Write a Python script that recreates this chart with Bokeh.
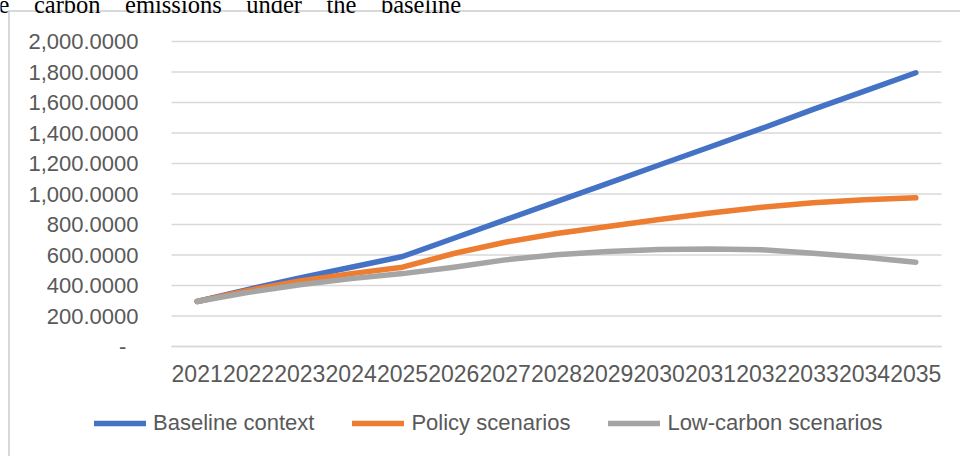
from bokeh.plotting import figure
from bokeh.models import (FixedTicker, NumeralTickFormatter, Legend, LegendItem, Label)
from bokeh.embed import file_html
from bokeh.resources import INLINE

years = ["2021", "2022", "2023", "2024", "2025", "2026", "2027", "2028",
         "2029", "2030", "2031", "2032", "2033", "2034", "2035"]
baseline = [295, 375, 450, 520, 590, 710, 830, 950, 1070, 1190, 1310, 1430, 1555, 1675, 1795]
policy = [295, 368, 430, 478, 520, 610, 684, 741, 787, 833, 876, 913, 942, 962, 975]
low_carbon = [295, 355, 405, 445, 478, 520, 568, 601, 623, 636, 640, 634, 612, 586, 553]
series_names = ["Baseline context", "Policy scenarios", "Low-carbon scenarios"]
series_colors = ["#4472C4", "#ED7D31", "#A5A5A5"]
y_ticks = [0, 200, 400, 600, 800, 1000, 1200, 1400, 1600, 1800, 2000]
zero_label = "-\u00a0\u00a0"
title_text = "the\u2003carbon\u2003emissions\u2003under\u2003the\u2003baseline"

FONT = "Liberation Sans"
GREY_TXT = "#595959"
FRAME_GREY = "#d9d9d9"

W, H = 960, 456
# plot area of the chart (pixels): x 171..941, y 41 (value 2000) .. 346 (value 0)
n = len(years)
cat_px = (941 - 171) / n
x_lo = -0.5 - 171 / cat_px
x_hi = -0.5 + (W - 171) / cat_px
px_per_val = (346 - 41) / 2000
y_hi = 2000 + 41 / px_per_val
y_lo = 0 - (H - 346) / px_per_val

xs = list(range(n))

p = figure(width=W, height=H, x_range=(x_lo, x_hi), y_range=(y_lo, y_hi),
           output_backend="svg", toolbar_location=None,
           min_border_left=0, min_border_right=0, min_border_top=0, min_border_bottom=0)
p.outline_line_color = None
p.background_fill_color = None
p.border_fill_color = None
# light grey frame of the embedded chart (drawn behind the transparent canvas)
p.styles = {
    "background": (f"linear-gradient({FRAME_GREY},{FRAME_GREY}) 8px 10px / 2px 446px no-repeat, "
                   f"linear-gradient({FRAME_GREY},{FRAME_GREY}) 8px 10px / 952px 2px no-repeat, "
                   "#ffffff"),
}

# horizontal gridlines limited to the plot area
p.xgrid.grid_line_color = None
p.ygrid.grid_line_color = None
p.segment(x0=-0.5, x1=n - 0.5, y0=y_ticks, y1=y_ticks, line_color=FRAME_GREY, line_width=1.5)

renderers = []
for vals, color in zip([baseline, policy, low_carbon], series_colors):
    r = p.line(xs, vals, line_color=color, line_width=5.5,
               line_cap="round", line_join="round")
    renderers.append(r)

yax = p.yaxis[0]
yax.fixed_location = -0.5
yax.bounds = (0, 2000)
yax.ticker = FixedTicker(ticks=y_ticks)
yax.formatter = NumeralTickFormatter(format="0,0.0000")
yax.major_label_overrides = {0: zero_label}
yax.axis_line_color = None
yax.major_tick_line_color = None
yax.minor_tick_line_color = None
yax.major_label_standoff = 27
yax.major_label_text_font = FONT
yax.major_label_text_font_size = "22px"
yax.major_label_text_color = GREY_TXT

xax = p.xaxis[0]
xax.fixed_location = 0
xax.bounds = (-0.5, n - 0.5)
xax.ticker = FixedTicker(ticks=xs)
xax.major_label_overrides = {i: y for i, y in zip(xs, years)}
xax.axis_line_color = FRAME_GREY
xax.axis_line_width = 1.5
xax.major_tick_line_color = None
xax.minor_tick_line_color = None
xax.major_label_standoff = 12
xax.major_label_text_font = FONT
xax.major_label_text_font_size = "23px"
xax.major_label_text_color = GREY_TXT

legend = Legend(items=[LegendItem(label=nm, renderers=[r]) for nm, r in zip(series_names, renderers)],
                orientation="horizontal", location=(94, 20),
                glyph_width=52, glyph_height=24, label_height=24,
                label_standoff=7, spacing=38, padding=0, margin=0,
                border_line_color=None, background_fill_alpha=0,
                label_text_font=FONT, label_text_font_size="22px",
                label_text_color=GREY_TXT)
p.add_layout(legend, "center")

p.add_layout(Label(x=-21, y=H - 4, x_units="screen", y_units="screen",
                   text=title_text,
                   text_font="Liberation Serif", text_font_size="24.5px",
                   text_color="black", text_baseline="alphabetic"))

open("out.html", "w").write(file_html(p, INLINE))
